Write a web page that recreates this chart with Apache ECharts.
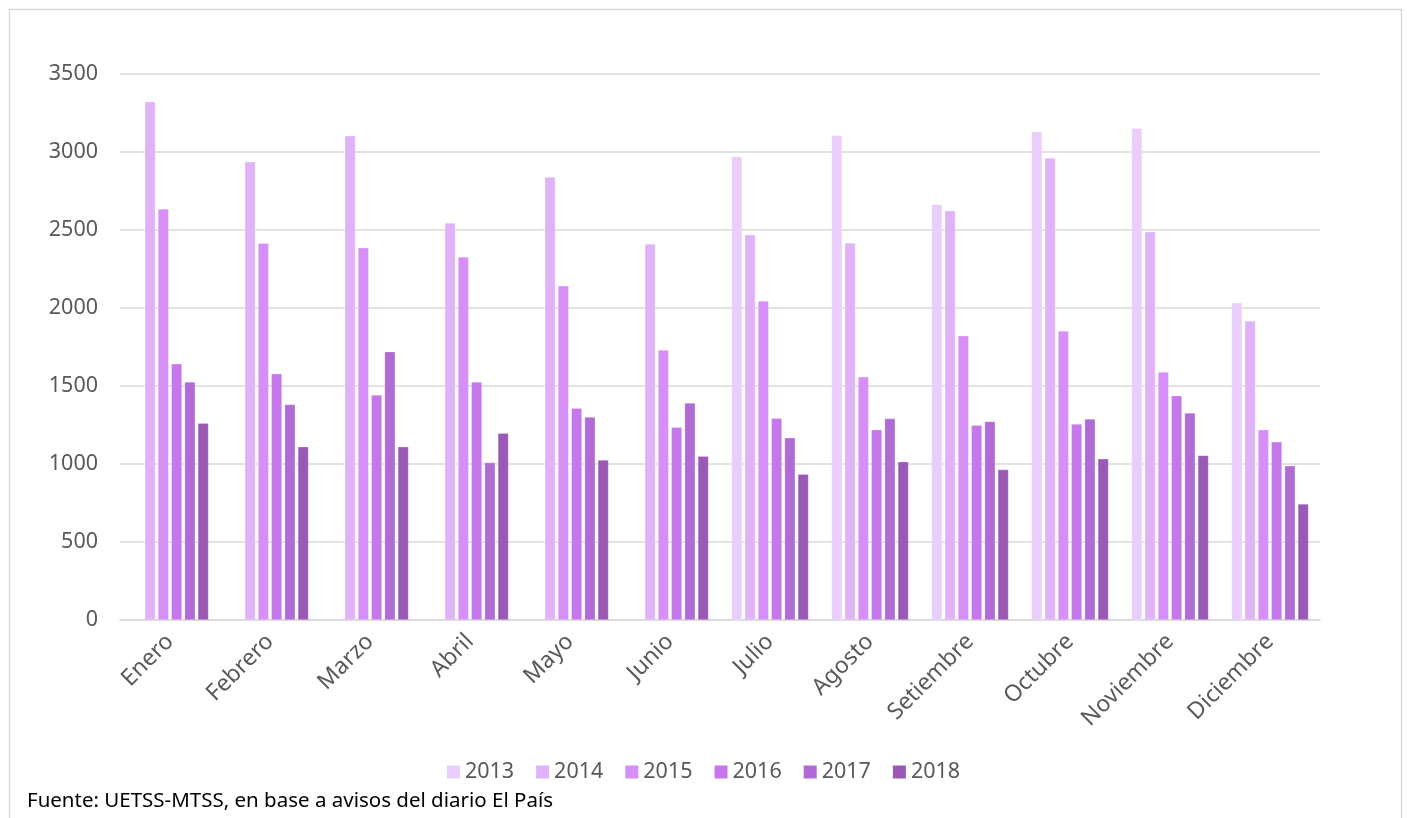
<!DOCTYPE html>
<html>
<head>
<meta charset="utf-8">
<script src="https://cdn.jsdelivr.net/npm/echarts@6/dist/echarts.min.js"></script>
<style>
html,body{margin:0;padding:0;background:#fff;}
#chart{width:1407px;height:818px;}
</style>
</head>
<body>
<div id="chart"></div>
<script>
const months = ['Enero','Febrero','Marzo','Abril','Mayo','Junio','Julio','Agosto','Setiembre','Octubre','Noviembre','Diciembre'];
const years = ['2013','2014','2015','2016','2017','2018'];
const y2013 = [null, null, null, null, null, null, 2970, 3107, 2664, 3130, 3152, 2033];
const y2014 = [3322, 2938, 3104, 2545, 2839, 2410, 2469, 2417, 2623, 2962, 2488, 1917];
const y2015 = [2635, 2415, 2386, 2327, 2142, 1730, 2045, 1559, 1822, 1853, 1590, 1220];
const y2016 = [1642, 1578, 1443, 1526, 1358, 1235, 1294, 1220, 1249, 1256, 1438, 1142];
const y2017 = [1526, 1382, 1720, 1009, 1301, 1391, 1168, 1291, 1273, 1289, 1327, 988];
const y2018 = [1261, 1111, 1111, 1197, 1026, 1050, 934, 1014, 964, 1033, 1055, 744];
const yTicks = [0, 500, 1000, 1500, 2000, 2500, 3000, 3500];
const footer = 'Fuente: UETSS-MTSS, en base a avisos del diario El País';

const seriesData = [y2013, y2014, y2015, y2016, y2017, y2018];
const colors = ['#E9CDFB', '#E0B3F9', '#D58FF7', '#C677EA', '#B16BD4', '#9959B5'];
const FONT = 'Noto Sans';

const chart = echarts.init(document.getElementById('chart'), null, {renderer: 'canvas'});
chart.setOption({
  animation: false,
  backgroundColor: '#fff',
  color: colors,
  textStyle: {fontFamily: FONT},
  grid: {left: 120, right: 87, top: 74, bottom: 198, containLabel: false},
  legend: {
    data: years,
    top: 756,
    left: 'center',
    icon: 'rect',
    itemWidth: 13,
    itemHeight: 13,
    itemGap: 22,
    itemStyle: {borderWidth: 0},
    textStyle: {fontSize: 21.5, color: '#595959', fontFamily: FONT}
  },
  xAxis: {
    type: 'category',
    data: months,
    axisTick: {show: false},
    axisLine: {show: true, lineStyle: {color: '#d9d9d9', width: 1.5}},
    axisLabel: {rotate: 45, fontSize: 23, color: '#595959', margin: 18, interval: 0, fontFamily: FONT}
  },
  yAxis: {
    type: 'value',
    min: yTicks[0],
    max: yTicks[yTicks.length - 1],
    interval: yTicks[1] - yTicks[0],
    axisLine: {show: false},
    axisTick: {show: false},
    axisLabel: {fontSize: 21.5, color: '#595959', margin: 22, fontFamily: FONT, formatter: v => String(v)},
    splitLine: {lineStyle: {color: '#d9d9d9', width: 1.5}}
  },
  series: years.map((y, i) => ({
    name: y,
    type: 'bar',
    data: seriesData[i],
    barCategoryGap: '23%',
    barGap: '25%',
    itemStyle: {color: colors[i], borderColor: 'rgba(255,255,255,0.5)', borderWidth: 0.5}
  })),
  graphic: [
    {
      type: 'rect',
      left: 7, top: 7,
      shape: {width: 1392, height: 840},
      style: {fill: 'none', stroke: '#d9d9d9', lineWidth: 1.5},
      silent: true
    },
    {
      type: 'text',
      left: 27, top: 791,
      style: {text: footer, fontSize: 20.5, fill: '#000', fontFamily: FONT}
    }
  ]
});
</script>
</body>
</html>
